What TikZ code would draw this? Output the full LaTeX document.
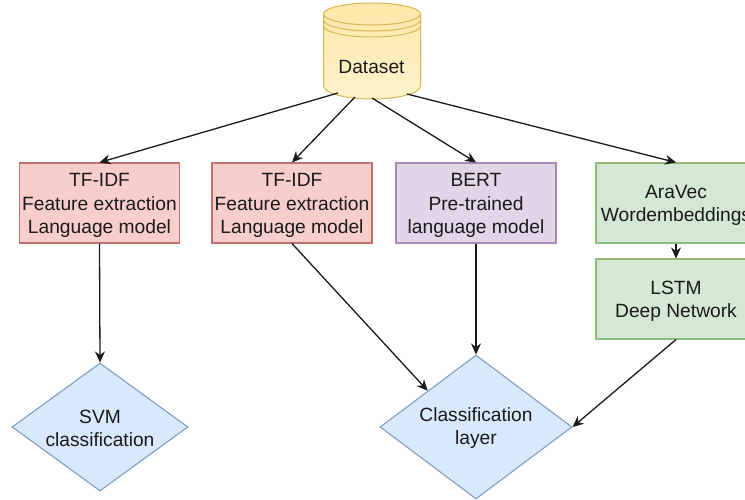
\documentclass[tikz,border=0pt]{standalone}
\usepackage{fontspec}
\setmainfont{Liberation Sans}
\usetikzlibrary{shapes.geometric,arrows.meta}
\definecolor{redf}{HTML}{F8CECC}\definecolor{redd}{HTML}{C4706C}
\definecolor{purf}{HTML}{E1D5E7}\definecolor{purd}{HTML}{A68AB6}
\definecolor{grnf}{HTML}{D5E8D4}\definecolor{grnd}{HTML}{8FBB78}
\definecolor{bluf}{HTML}{DAE8FC}\definecolor{blud}{HTML}{7E9CC8}
\definecolor{yelf}{HTML}{FFF2CC}\definecolor{yelt}{HTML}{FFE8A8}\definecolor{yeld}{HTML}{D6B656}
\definecolor{ink}{HTML}{1A1A1A}
\newcommand{\boxtop}{\rule{0pt}{18pt}}
\newcommand{\diatop}{\rule{0pt}{16pt}}
\tikzset{
  px/.style={x=1pt,y=-1pt},
  box/.style={draw,line width=1.1pt,rectangle,minimum width=160pt,minimum height=80pt,align=center,inner sep=0pt,font=\fontsize{19.2}{23.5}\selectfont,text=ink},
  redbox/.style={box,fill=redf,draw=redd},
  purbox/.style={box,fill=purf,draw=purd},
  grnbox/.style={box,fill=grnf,draw=grnd},
  dia/.style={draw=blud,fill=bluf,line width=1.1pt,diamond,aspect=1.375,inner sep=0pt,align=center,font=\fontsize{19.2}{23.5}\selectfont,text=ink},
  link/.style={draw=ink,line width=1.3pt,-{Stealth[length=11pt,width=10pt]}},
  cyl/.style={draw=yeld,line width=1pt},
}
\begin{document}
\begin{tikzpicture}[px]
\useasboundingbox (0,0) rectangle (745,500);
\clip (0,0) rectangle (745,500);
\fill[white] (0,0) rectangle (745,500);
% cylinder
\path[cyl,top color=yelt,bottom color=yelf]
  (323.5,14) .. controls (323.5,8) and (345,3) .. (372,3) .. controls (399,3) and (420.5,8) .. (420.5,14)
  -- (420.5,86) .. controls (420.5,93) and (399,99) .. (372,99) .. controls (345,99) and (323.5,93) .. (323.5,86) -- cycle;
\draw[cyl] (323.5,14) .. controls (323.5,20) and (345,25) .. (372,25) .. controls (399,25) and (420.5,20) .. (420.5,14);
\draw[cyl] (323.5,20) .. controls (323.5,26) and (345,31) .. (372,31) .. controls (399,31) and (420.5,26) .. (420.5,20);
\draw[cyl] (323.5,26) .. controls (323.5,32) and (345,37) .. (372,37) .. controls (399,37) and (420.5,32) .. (420.5,26);
\node[font=\fontsize{19.2}{24}\selectfont,text=ink,inner sep=0pt] (ds) at (371.5,67) {Dataset};
\coordinate (ds1) at (338,93);
\coordinate (ds2) at (355,97);
\coordinate (ds3) at (372,98);
\coordinate (ds4) at (407,94);
% boxes
\node[redbox] (r1) at (99.5,203) {\boxtop TF-IDF\\Feature extraction\\Language model};
\node[redbox] (r2) at (292,203) {\boxtop TF-IDF\\Feature extraction\\Language model};
\node[purbox] (b) at (476,203) {\boxtop BERT\\Pre-trained\\language model};
\node[grnbox] (a) at (676,203) {\boxtop AraVec\\Wordembeddings};
\node[grnbox] (l) at (676,299) {\boxtop LSTM\\Deep Network};
\node[dia,minimum width=176pt,minimum height=128pt] (svm) at (100,427) {\diatop SVM\\classification};
\node[dia,minimum width=192pt,minimum height=144pt] (c) at (476,427) {\diatop Classification\\layer};
% connectors
\draw[link] (ds1) -- (r1.north);
\draw[link] (ds2) -- (r2.north);
\draw[link] (ds3) -- (b.north);
\draw[link] (ds4) -- (a.north);
\draw[link] (r1.south) -- (svm.north);
\draw[link] (r2.south) -- (c.north west);
\draw[link] (b.south) -- (c.north);
\draw[link] (a.south) -- (l.north);
\draw[link] (l.south) -- (c.east);
\end{tikzpicture}
\end{document}
